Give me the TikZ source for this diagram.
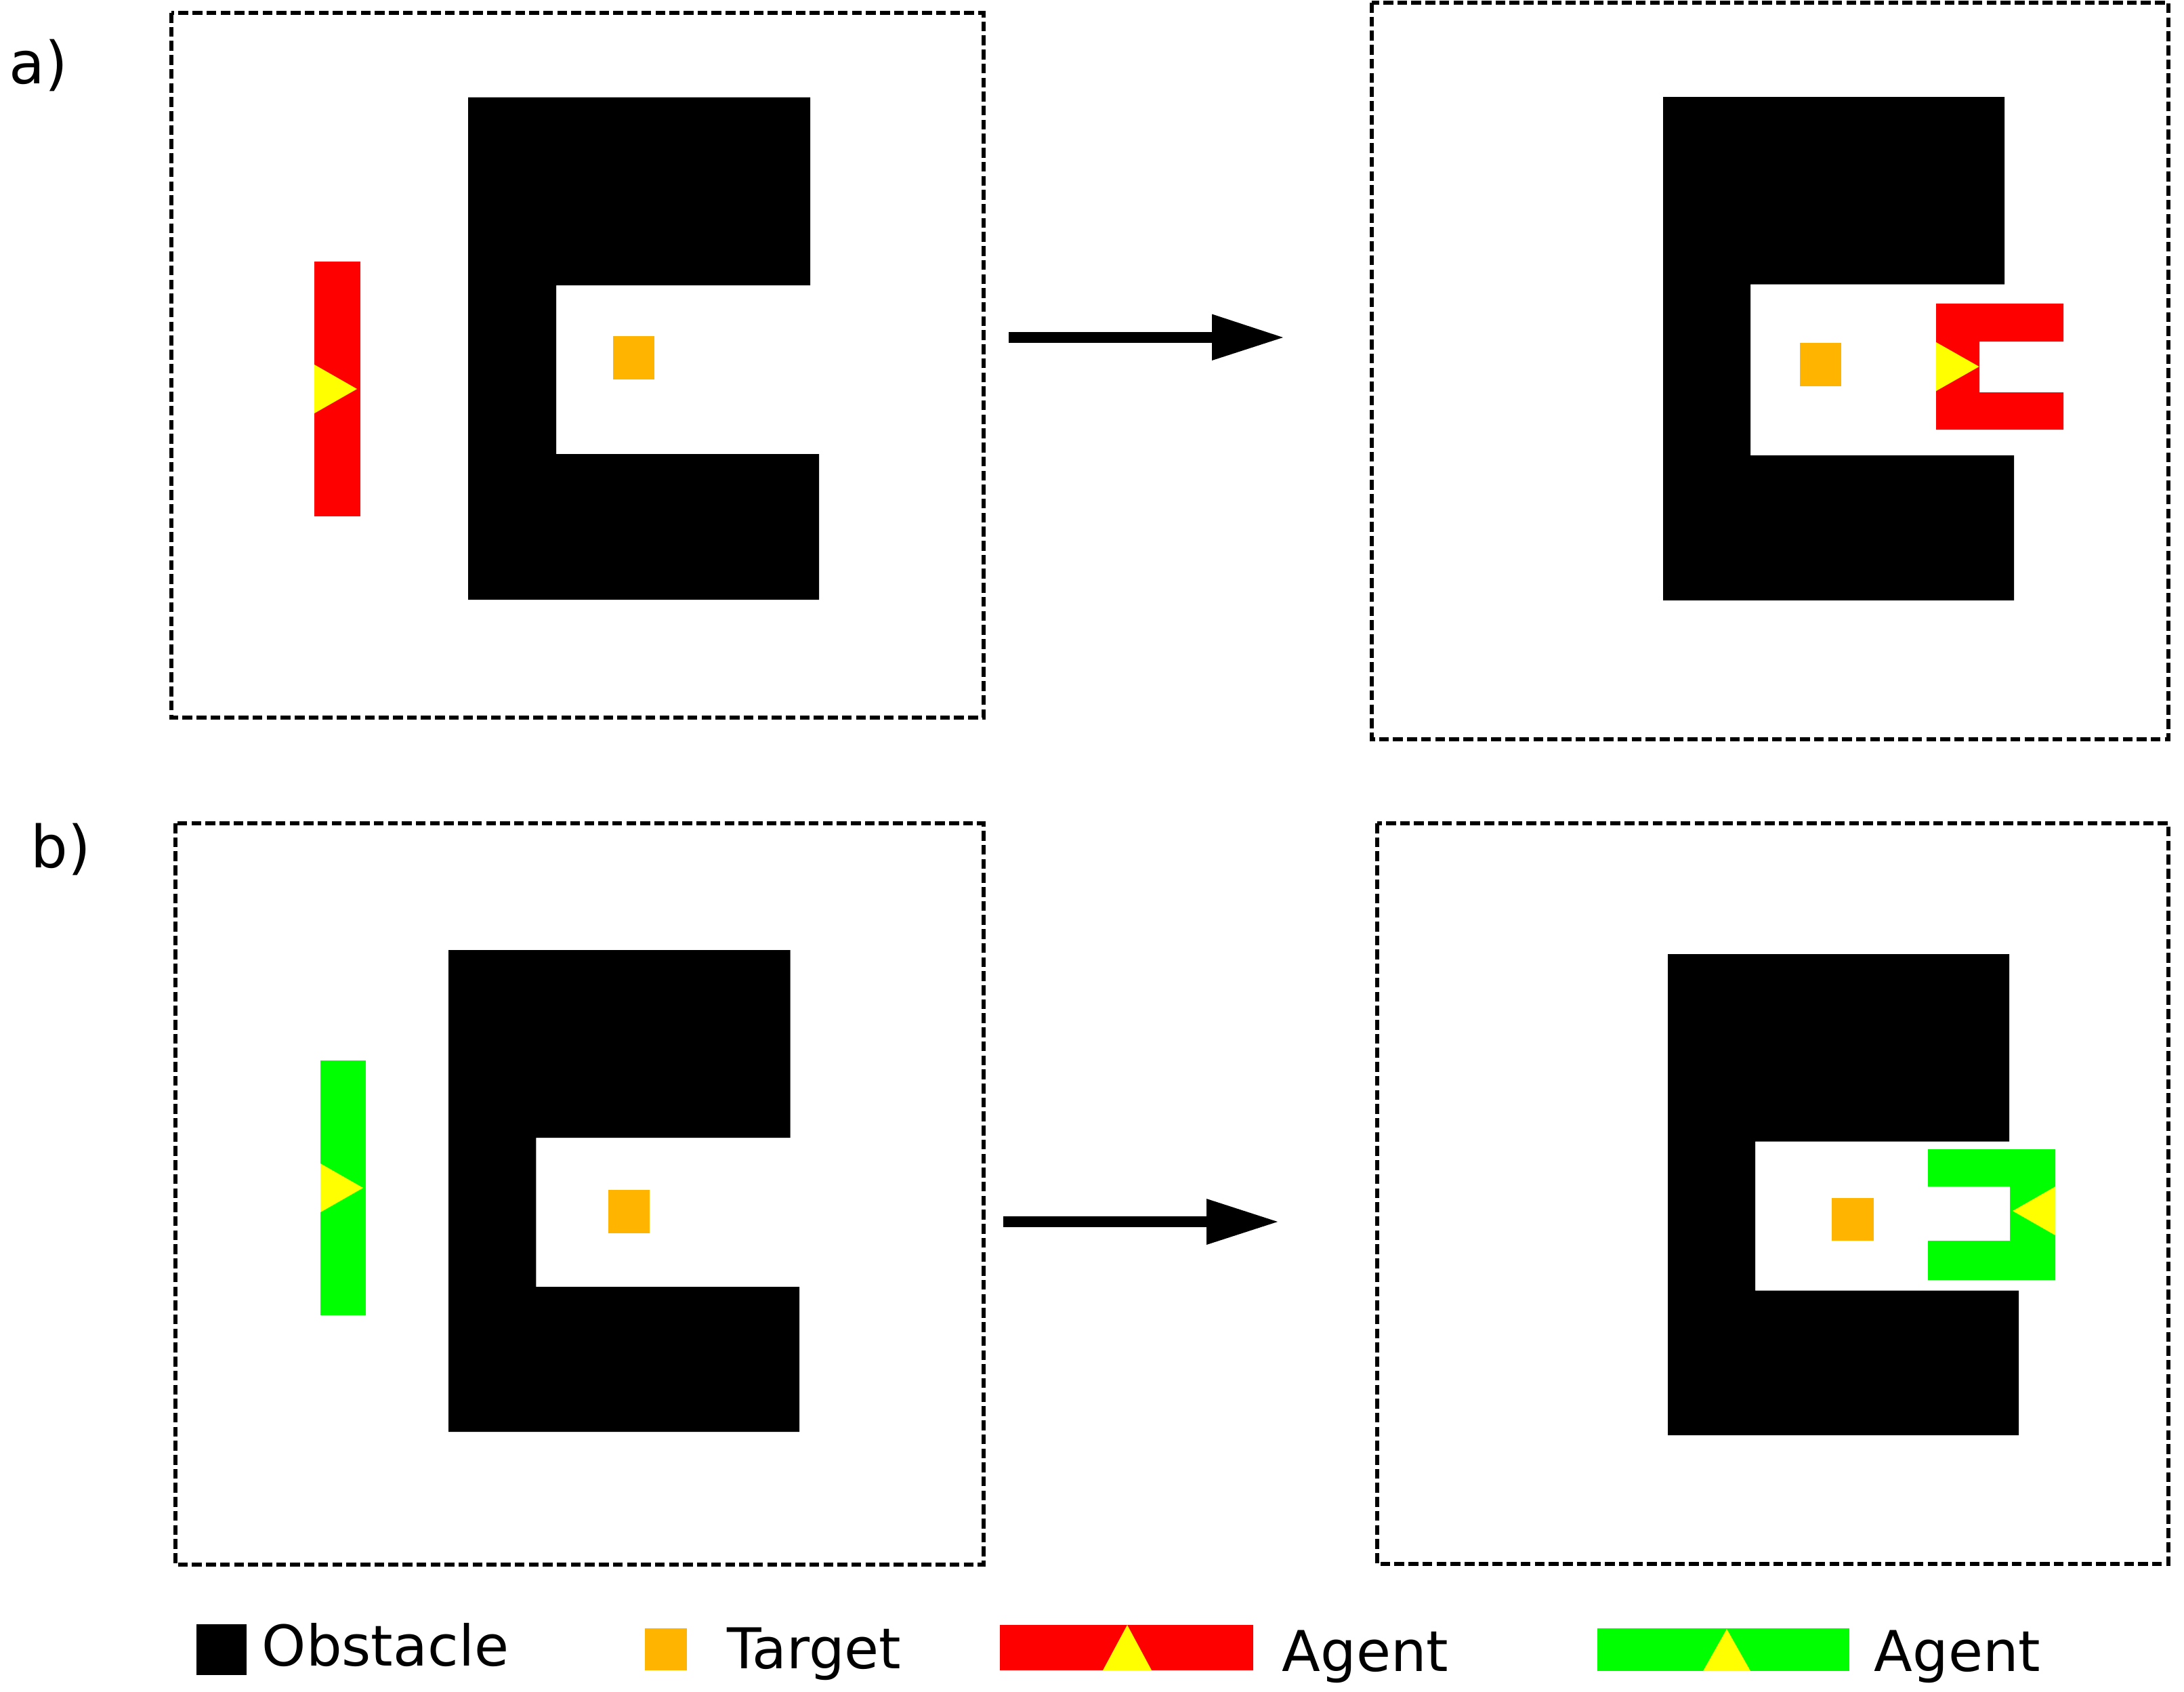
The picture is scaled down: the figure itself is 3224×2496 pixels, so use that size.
\documentclass[tikz,border=0pt]{standalone}
\usepackage{fontspec}
\setmainfont{DejaVu Sans}
\definecolor{agentred}{RGB}{255,0,0}
\definecolor{agentgreen}{RGB}{0,255,0}
\definecolor{eye}{RGB}{255,255,0}
\definecolor{tgt}{RGB}{255,180,0}
\begin{document}
\begin{tikzpicture}[x=0.01cm,y=-0.01cm,
  frame/.style={draw=black,line width=0.065cm,dash pattern=on 0.145cm off 0.062cm},
  obstacle/.style={fill=black},
  target/.style={fill=tgt},
  redagent/.style={fill=agentred},
  greenagent/.style={fill=agentgreen},
  eyetri/.style={fill=eye},
  shaft/.style={line width=0.153cm},
  head/.style={fill=black},
  lbl/.style={anchor=base west,inner sep=0pt,font=\fontsize{24.5pt}{29pt}\selectfont},
  leg/.style={anchor=base west,inner sep=0pt,font=\fontsize{23.6pt}{28pt}\selectfont}]
\useasboundingbox (0,0) rectangle (3224,2496);

% labels
\node[lbl] (la) at (13,123) {a)};
\node[lbl] (lb) at (45,1280) {b)};

% frames
\draw[frame] (253,19) rectangle (1452,1059);
\draw[frame] (2025,4) rectangle (3201,1091);
\draw[frame] (259,1215) rectangle (1452,2309);
\draw[frame] (2033,1215) rectangle (3201,2308);

% obstacles
\fill[obstacle] (691,143.5) -- (1196,143.5) -- (1196,421) -- (821,421) -- (821,670) -- (1209,670) -- (1209,885) -- (691,885) -- cycle;
\fill[obstacle] (2455,143) -- (2959,143) -- (2959,419.5) -- (2584,419.5) -- (2584,672) -- (2973,672) -- (2973,886) -- (2455,886) -- cycle;
\fill[obstacle] (662,1402) -- (1166.5,1402) -- (1166.5,1679) -- (791.4,1679) -- (791.4,1899) -- (1180,1899) -- (1180,2113) -- (662,2113) -- cycle;
\fill[obstacle] (2462,1408) -- (2966,1408) -- (2966,1684.6) -- (2591,1684.6) -- (2591,1904.6) -- (2980,1904.6) -- (2980,2118) -- (2462,2118) -- cycle;

% targets
\fill[target] (904.6,495.5) rectangle (966,560);
\fill[target] (2657,506) rectangle (2718,570);
\fill[target] (897.6,1756) rectangle (959,1820);
\fill[target] (2704,1768) rectangle (2766,1831);

% agents a
\fill[redagent] (464,386) rectangle (532,762);
\fill[eyetri] (464,538) -- (527,574) -- (464,610) -- cycle;
\fill[redagent] (2858,448) -- (3046,448) -- (3046,504) -- (2922,504) -- (2922,579) -- (3046,579) -- (3046,634) -- (2858,634) -- cycle;
\fill[eyetri] (2858,505) -- (2921.5,541) -- (2858,577) -- cycle;

% agents b
\fill[greenagent] (473,1565) rectangle (540,1941);
\fill[eyetri] (473,1717) -- (536,1753) -- (473,1789) -- cycle;
\fill[greenagent] (2846,1696) -- (3034,1696) -- (3034,1889) -- (2846,1889) -- (2846,1831) -- (2967,1831) -- (2967,1751) -- (2846,1751) -- cycle;
\fill[eyetri] (3034,1751) -- (2971,1787) -- (3034,1823) -- cycle;

% arrows
\coordinate (a1) at (1489,498);
\coordinate (a2) at (1790,498);
\coordinate (a3) at (1894,498);
\draw[shaft] (a1) -- (a2);
\fill[head] (1789,463.5) -- (a3) -- (1789,532) -- cycle;
\coordinate (b1) at (1481,1803);
\coordinate (b2) at (1782,1803);
\coordinate (b3) at (1886,1803);
\draw[shaft] (b1) -- (b2);
\fill[head] (1781,1769) -- (b3) -- (1781,1837) -- cycle;

% legend
\fill[obstacle] (290,2397) rectangle (364,2472);
\node[leg] (t1) at (386,2458) {Obstacle};
\fill[target] (952,2403) rectangle (1014,2465);
\node[leg] (t2) at (1073,2462) {Target};
\fill[redagent] (1476,2398) rectangle (1850,2465);
\fill[eyetri] (1628,2465) -- (1664,2398) -- (1700,2465) -- cycle;
\node[leg] (t3) at (1892,2466) {Agent};
\fill[greenagent] (2358,2403) rectangle (2730,2466);
\fill[eyetri] (2514,2466) -- (2549,2404) -- (2584,2466) -- cycle;
\node[leg] (t4) at (2766,2466) {Agent};
\end{tikzpicture}
\end{document}
